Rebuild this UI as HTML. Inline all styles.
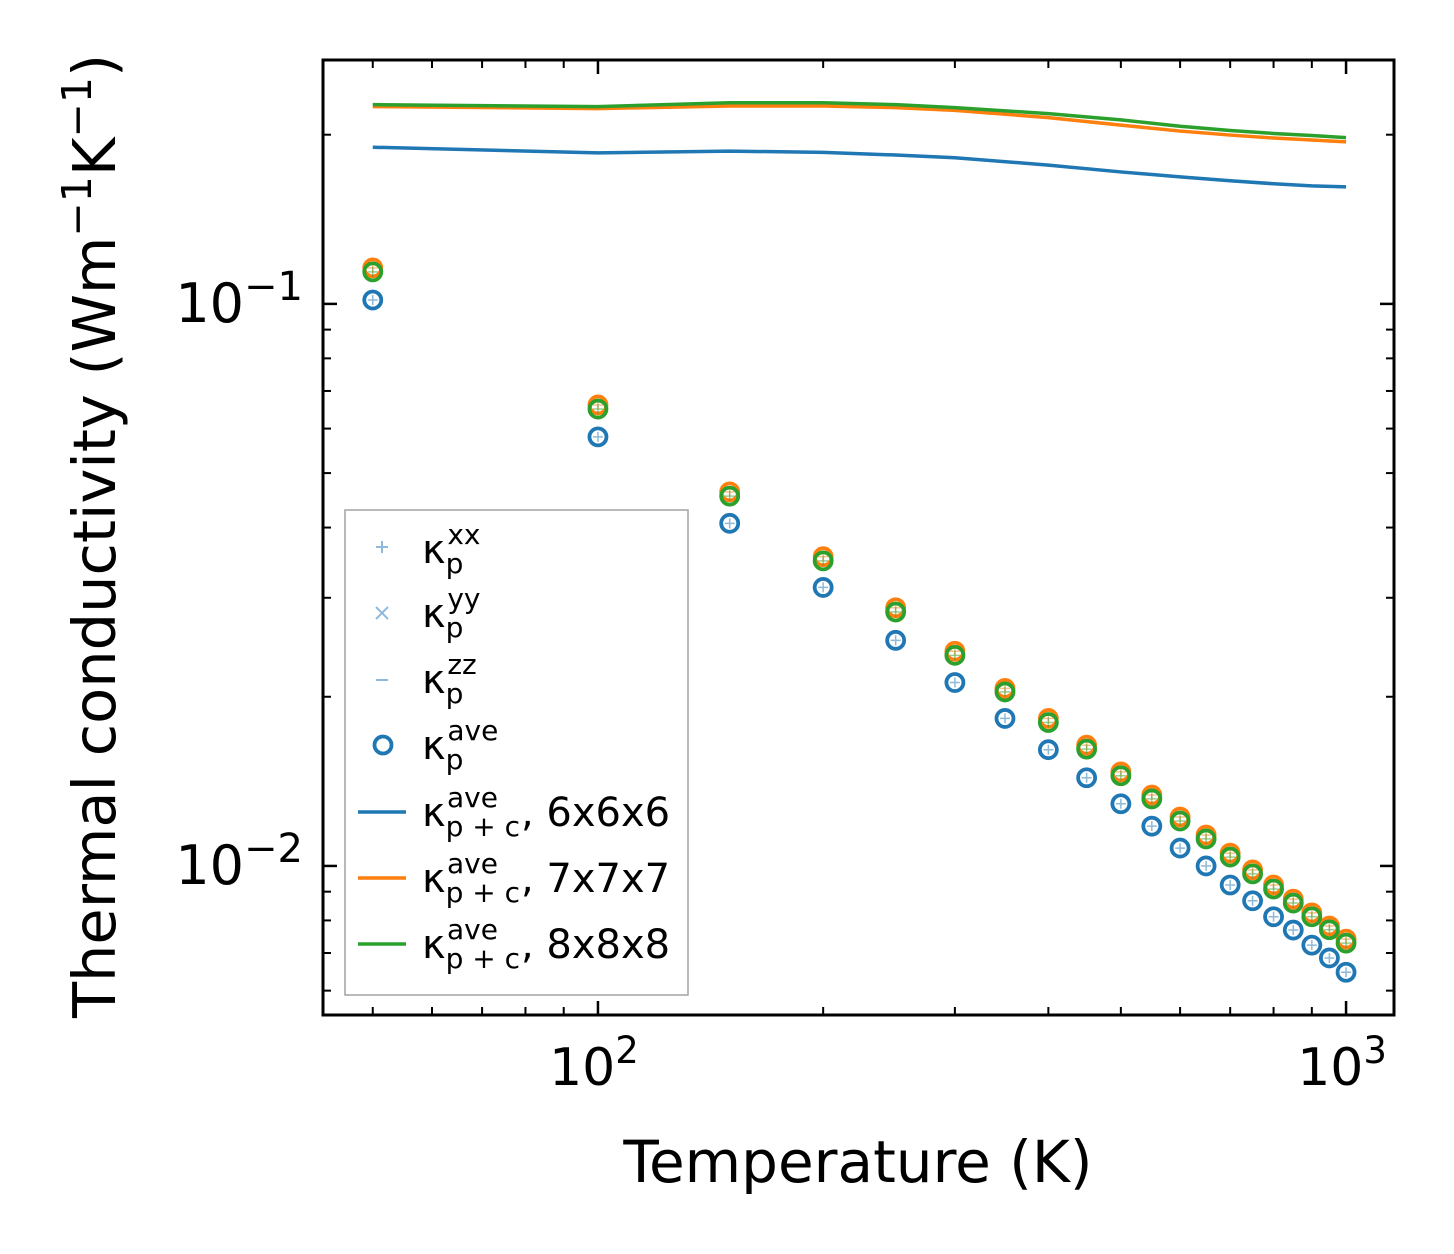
<!DOCTYPE html>
<html><head><meta charset="utf-8"><style>
html,body{margin:0;padding:0;background:#fff;}
svg{display:block;font-family:"DejaVu Sans","Liberation Sans",sans-serif;}
</style></head><body>
<svg id="chart" width="1454" height="1254" viewBox="0 0 1454 1254" xmlns="http://www.w3.org/2000/svg"></svg>
<script>
const temps=[50,100,150,200,250,300,350,400,450,500,550,600,650,700,750,800,850,900,950,1000];
const kpBlue=[0.1016,0.058,0.0407,0.0313,0.0252,0.0212,0.0183,0.0161,0.01435,0.0129,0.01177,0.01076,0.0100,0.00925,0.00867,0.00812,0.00769,0.00723,0.00686,0.00647];
const kpOrange=[0.1159,0.0661,0.0463,0.0355,0.0288,0.0241,0.0207,0.0183,0.0164,0.0147,0.01337,0.01222,0.01135,0.01054,0.00984,0.00925,0.00873,0.00825,0.00782,0.00741];
const kpGreen=[0.1140,0.0650,0.0455,0.0349,0.0283,0.0237,0.0204,0.0180,0.01614,0.01447,0.01316,0.01202,0.01117,0.01037,0.00968,0.0091,0.00859,0.00812,0.0077,0.00729];
const lineTemps=[50,100,150,200,250,300,400,500,600,700,800,900,1000];
const lineBlue=[0.190,0.1856,0.187,0.186,0.184,0.182,0.1766,0.1717,0.1683,0.1656,0.1636,0.1622,0.1615];
const lineOrange=[0.2244,0.2226,0.225,0.225,0.2235,0.221,0.2145,0.208,0.203,0.1997,0.1973,0.1957,0.1942];
const lineGreen=[0.2262,0.2244,0.228,0.228,0.2262,0.2235,0.218,0.2125,0.207,0.2035,0.2010,0.1993,0.1976];

const L=323,R=1394,T=60,B=1015;
const xmin=42.9,xmax=1159,ymin=0.00543,ymax=0.2716;
const X=v=>L+(Math.log10(v)-Math.log10(xmin))/(Math.log10(xmax)-Math.log10(xmin))*(R-L);
const Y=v=>B-(Math.log10(v)-Math.log10(ymin))/(Math.log10(ymax)-Math.log10(ymin))*(B-T);
const svg=document.getElementById('chart');
const NS='http://www.w3.org/2000/svg';
function el(tag,attrs,parent){const e=document.createElementNS(NS,tag);for(const k in attrs)e.setAttribute(k,attrs[k]);(parent||svg).appendChild(e);return e;}

[[lineBlue,'#1f77b4','line-6x6x6'],[lineOrange,'#ff7f0e','line-7x7x7'],[lineGreen,'#2ca02c','line-8x8x8']].forEach(([d,c,n])=>{
  const p=el('polyline',{points:lineTemps.map((t,i)=>X(t)+','+Y(d[i])).join(' '),fill:'none',stroke:c,'stroke-width':3.5});
  
  
});
[[kpOrange,'#ff7f0e','orange'],[kpGreen,'#2ca02c','green'],[kpBlue,'#1f77b4','blue']].forEach(([d,c,n])=>{
  temps.forEach((t,i)=>{
    const cx=X(t),cy=Y(d[i]);
    const m=el('circle',{cx:cx,cy:cy,r:8.5,fill:'none',stroke:c,'stroke-width':3.8});
    
    
    el('path',{d:`M${cx-5} ${cy}h10M${cx} ${cy-5}v10`,stroke:c,'stroke-width':1.5,opacity:0.5});
  });
});
const fr=el('rect',{x:L,y:T,width:R-L,height:B-T,fill:'none',stroke:'#000','stroke-width':3});


for(let e=1;e<=3;e++)for(let m=1;m<10;m++){const v=m*Math.pow(10,e);if(v<xmin||v>xmax)continue;const x=X(v);const len=m==1?14:8;
  el('line',{x1:x,y1:B,x2:x,y2:B-len,stroke:'#000','stroke-width':m==1?2.5:2});
  el('line',{x1:x,y1:T,x2:x,y2:T+len,stroke:'#000','stroke-width':m==1?2.5:2});
  if(m==1){const t=el('text',{x:x-4,y:B+70,'font-size':52,'text-anchor':'middle'});t.innerHTML='10<tspan dy="-22" font-size="37">'+e+'</tspan>';}
}
for(let e=-3;e<=0;e++)for(let m=1;m<10;m++){const v=m*Math.pow(10,e);if(v<ymin||v>ymax)continue;const y=Y(v);const len=m==1?14:8;
  el('line',{x1:L,y1:y,x2:L+len,y2:y,stroke:'#000','stroke-width':m==1?2.5:2});
  el('line',{x1:R,y1:y,x2:R-len,y2:y,stroke:'#000','stroke-width':m==1?2.5:2});
  if(m==1){const t=el('text',{x:L-20,y:y+18,'font-size':54,'text-anchor':'end'});t.innerHTML='10<tspan dy="-22" font-size="40">−'+(-e)+'</tspan>';}
}
</script>
<svg style="position:absolute;left:0;top:0" width="1454" height="1254" xmlns="http://www.w3.org/2000/svg" font-family="DejaVu Sans, Liberation Sans, sans-serif">
<text x="858" y="1182" font-size="58" text-anchor="middle">Temperature (K)</text>
<text transform="translate(115,536) rotate(-90)" font-size="59" text-anchor="middle">Thermal conductivity (Wm<tspan dy="-24" font-size="41">−1</tspan><tspan dy="24">K</tspan><tspan dy="-24" font-size="41">−1</tspan><tspan dy="24">)</tspan></text>
<g>
<rect x="345" y="510" width="343" height="485" fill="#fff" stroke="#999" stroke-width="1.5" opacity="0.9"/>
<g><path d="M376 547h12M382 541v12" stroke="#8fb8dd" stroke-width="2"/><text x="422" y="563" font-size="40">κ<tspan dy="10" font-size="28">p</tspan><tspan dx="-16" dy="-29" font-size="28">xx</tspan></text></g>
<g><path d="M376 607l12 12M388 607l-12 12" stroke="#8fb8dd" stroke-width="2"/><text x="422" y="627" font-size="40">κ<tspan dy="10" font-size="28">p</tspan><tspan dx="-16" dy="-29" font-size="28">yy</tspan></text></g>
<g><path d="M376 680h12" stroke="#8fb8dd" stroke-width="2"/><text x="422" y="693" font-size="40">κ<tspan dy="10" font-size="28">p</tspan><tspan dx="-16" dy="-29" font-size="28">zz</tspan></text></g>
<g><circle cx="383" cy="745" r="8.5" fill="none" stroke="#1f77b4" stroke-width="3.8"/><text x="422" y="759" font-size="40">κ<tspan dy="10" font-size="28">p</tspan><tspan dx="-16" dy="-29" font-size="28">ave</tspan></text></g>
<g><path d="M358 812h48" stroke="#1f77b4" stroke-width="3.5"/><text x="422" y="826" font-size="40">κ<tspan dy="10" font-size="28">p + c</tspan><tspan dx="-73" dy="-29" font-size="28">ave</tspan><tspan dx="23" dy="19">, 6x6x6</tspan></text></g>
<g><path d="M358 878h48" stroke="#ff7f0e" stroke-width="3.5"/><text x="422" y="892" font-size="40">κ<tspan dy="10" font-size="28">p + c</tspan><tspan dx="-73" dy="-29" font-size="28">ave</tspan><tspan dx="23" dy="19">, 7x7x7</tspan></text></g>
<g><path d="M358 944h48" stroke="#2ca02c" stroke-width="3.5"/><text x="422" y="958" font-size="40">κ<tspan dy="10" font-size="28">p + c</tspan><tspan dx="-73" dy="-29" font-size="28">ave</tspan><tspan dx="23" dy="19">, 8x8x8</tspan></text></g>
</g>
</svg>
</body></html>
